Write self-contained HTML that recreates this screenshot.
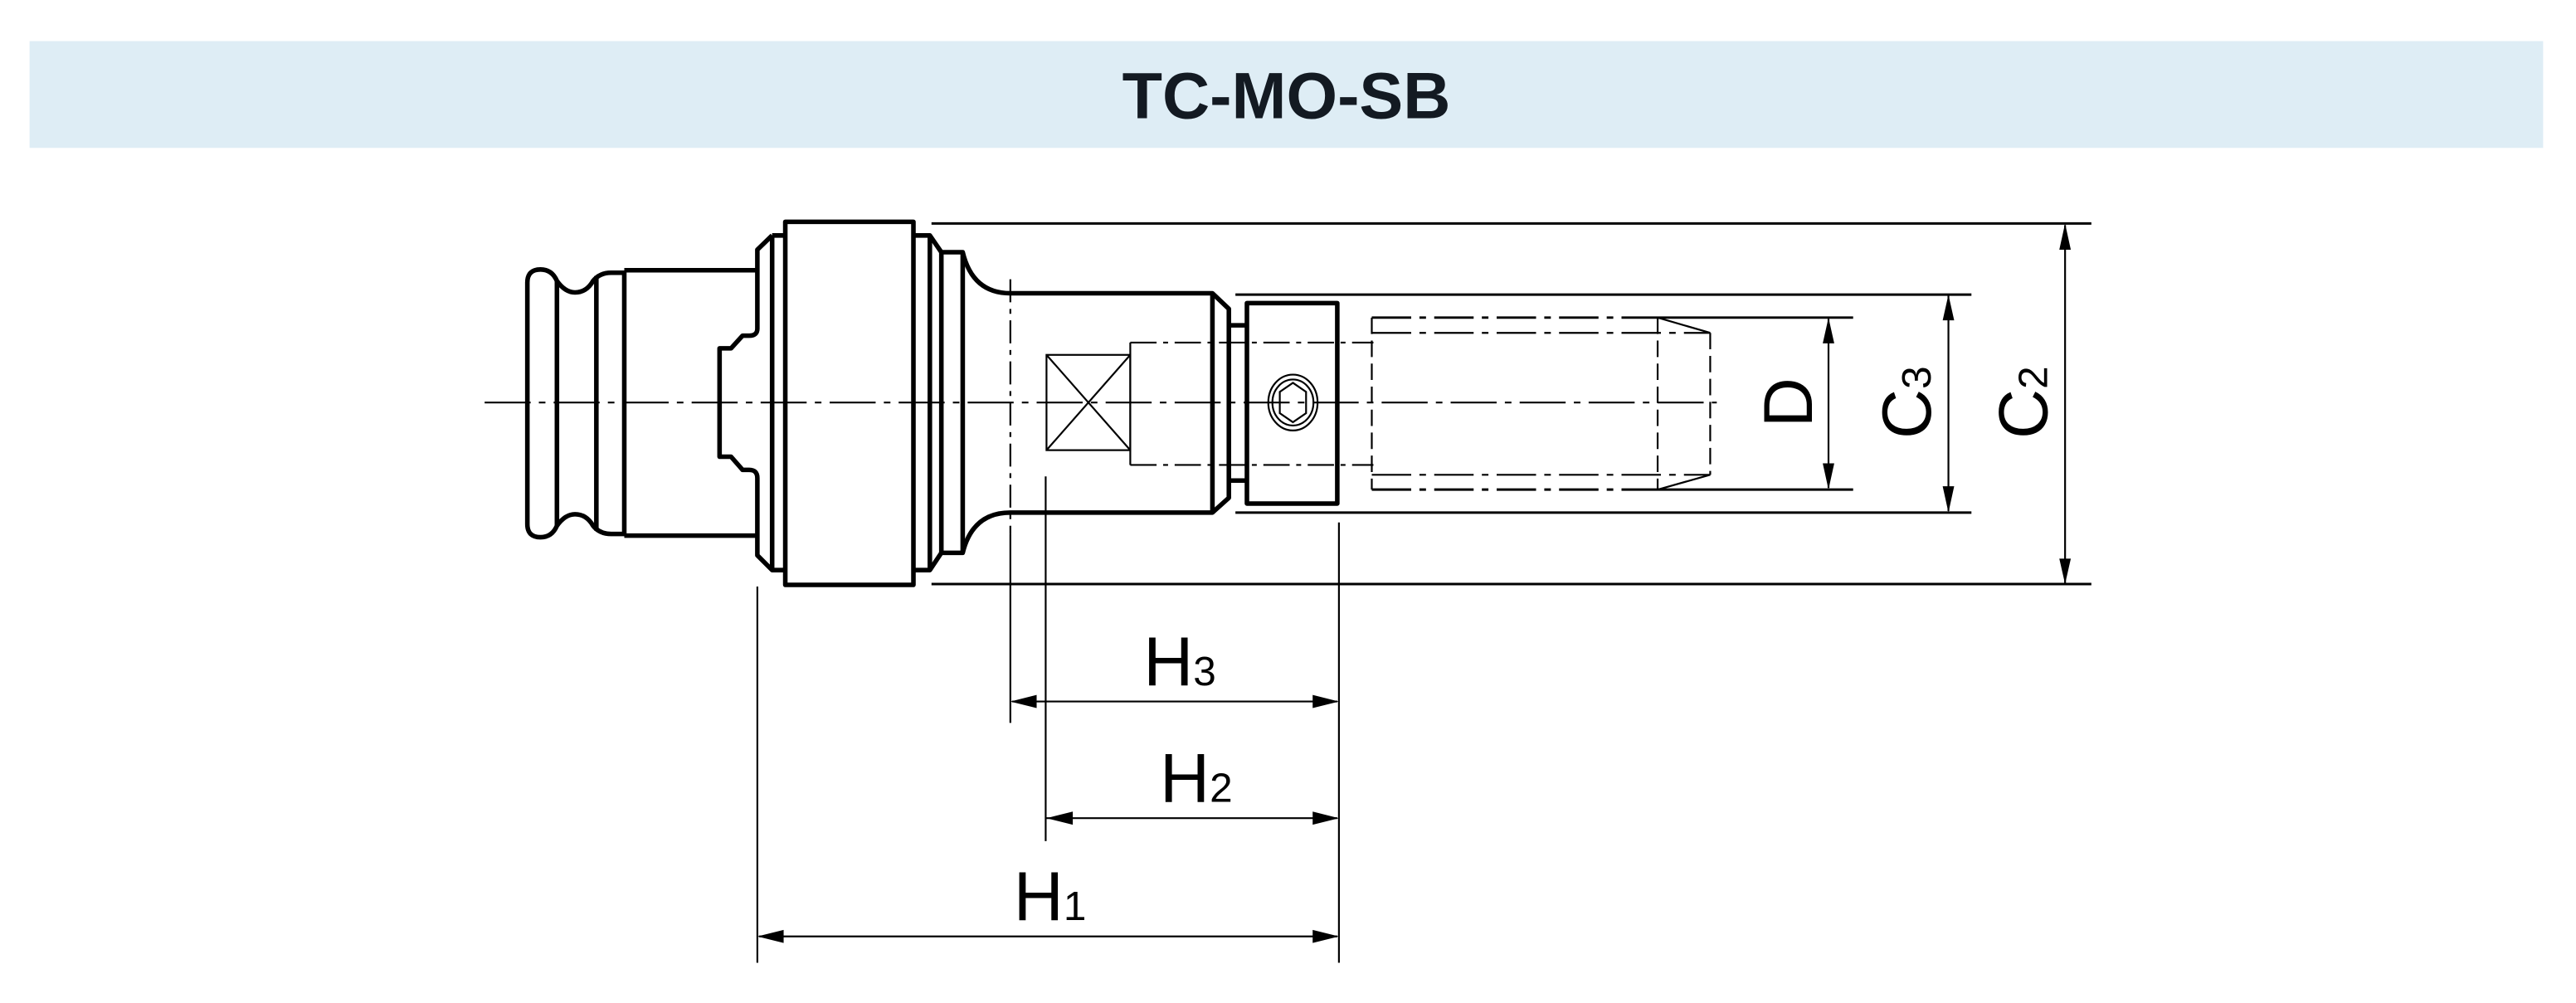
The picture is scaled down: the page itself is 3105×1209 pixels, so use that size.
<!DOCTYPE html>
<html><head><meta charset="utf-8"><style>
html,body{margin:0;padding:0;background:#fff;}
svg{display:block;}
</style></head><body>
<svg width="3105" height="1209" viewBox="0 0 1568 610.5" xmlns="http://www.w3.org/2000/svg" font-family="Liberation Sans, sans-serif">
<rect x="18" y="25" width="1530" height="65" fill="#deedf5"/>
<text x="783" y="72" text-anchor="middle" font-size="40" font-weight="bold" fill="#131a22">TC-MO-SB</text>

<g fill="none" stroke="#000" stroke-width="2.8" stroke-linejoin="round">
<path d="M321,172 Q321,164 329,164 Q336,164 339,171 Q344,178 350,178 Q357,178 361,171 Q365,166 372,166 L380,166 L380,325 L372,325 Q365,325 361,320 Q357,313 350,313 Q344,313 339,320 Q336,327 329,327 Q321,327 321,319 Z"/>
<line x1="339" y1="171" x2="339" y2="320"/>
<line x1="363" y1="168" x2="363" y2="323"/>
<path d="M380,164.5 L461,164.5 M380,326 L461,326"/>
<path d="M470,143.3 L478,143.3 M470,143.3 L461,152 L461,200 Q461,204.3 456,204.3 L452,204.3 L445,212 L438,212 L438,278 L445,278 L452,286 L456,286 Q461,286 461,291 L461,338 L470,347 L478,347"/>
<line x1="470" y1="143.3" x2="470" y2="347"/>
<rect x="478" y="135" width="78" height="221"/>
<path d="M556,143.3 L566,143.3 L573,153.5 L586,153.5 Q592,178.5 615,178.5 L738,178.5 L748,188 L748,303 L738,312 L615,312 Q592,312 586,336.5 L573,336.5 L566,347 L556,347"/>
<line x1="566" y1="143.3" x2="566" y2="347"/>
<line x1="573" y1="153.5" x2="573" y2="336.5"/>
<line x1="586" y1="153.5" x2="586" y2="336.5"/>
<line x1="738" y1="178.5" x2="738" y2="312"/>
<path d="M748,198 L759,198 M748,292.5 L759,292.5"/>
<rect x="759" y="184.5" width="55" height="122"/>
</g>

<g fill="none" stroke="#000" stroke-width="1.1">
<rect x="637" y="216" width="51" height="58"/>
<path d="M637,216 L688,274 M688,216 L637,274"/>
<path d="M688,208.5 L836,208.5 M688,283 L836,283" stroke-dasharray="16,4,3,4"/>
<line x1="688" y1="208.5" x2="688" y2="283"/>
<path d="M835,193.3 L1009,193.3 M835,298 L1009,298" stroke-dasharray="24,5,4,5" stroke-width="1.5"/>
<path d="M835,202.6 L1041,202.6 M835,289 L1041,289" stroke-dasharray="24,5,4,5"/>
<path d="M835,193.3 L835,298" stroke-dasharray="10,4"/>
<path d="M1009,193.3 L1009,298 M1041,202.6 L1041,289" stroke-dasharray="10,4"/>
<path d="M1009,193.3 L1041,202.6 M1009,298 L1041,289"/>
<ellipse cx="787" cy="245" rx="15" ry="17"/>
<ellipse cx="787" cy="245" rx="12.5" ry="14"/>
<polygon points="787,233 795,238.5 795,251.5 787,257 779,251.5 779,238.5"/>
<line x1="295" y1="245" x2="1045" y2="245" stroke-dasharray="28,5,4,5"/>
<path d="M615,170 L615,325" stroke-dasharray="14,4,3,4"/>
<line x1="615" y1="325" x2="615" y2="440"/>
<line x1="636.5" y1="290" x2="636.5" y2="512"/>
<line x1="461" y1="357" x2="461" y2="586"/>
<line x1="815" y1="318" x2="815" y2="586"/>
<g stroke-width="1.5">
<line x1="567" y1="136" x2="1273" y2="136"/>
<line x1="567" y1="355.5" x2="1273" y2="355.5"/>
<line x1="752" y1="179.3" x2="1200" y2="179.3"/>
<line x1="752" y1="312" x2="1200" y2="312"/>
<line x1="1009" y1="193.3" x2="1128" y2="193.3"/>
<line x1="1009" y1="298" x2="1128" y2="298"/>
</g>
<line x1="1113" y1="194" x2="1113" y2="297"/>
<line x1="1186" y1="180" x2="1186" y2="311"/>
<line x1="1257" y1="137" x2="1257" y2="355"/>
<line x1="616" y1="427" x2="814" y2="427"/>
<line x1="637" y1="498" x2="814" y2="498"/>
<line x1="462" y1="570" x2="814" y2="570"/>
</g>
<g fill="#000">
<polygon points="1113,193.3 1109.5,209 1116.5,209"/>
<polygon points="1113,298 1109.5,282 1116.5,282"/>
<polygon points="1186,179.3 1182.5,195 1189.5,195"/>
<polygon points="1186,312 1182.5,296 1189.5,296"/>
<polygon points="1257,136 1253.5,152 1260.5,152"/>
<polygon points="1257,355.5 1253.5,340 1260.5,340"/>
<polygon points="615,427 631,423 631,431"/>
<polygon points="815,427 799,423 799,431"/>
<polygon points="637,498 653,494 653,502"/>
<polygon points="815,498 799,494 799,502"/>
<polygon points="461,570 477,566 477,574"/>
<polygon points="815,570 799,566 799,574"/>
</g>
<g font-size="42" fill="#000">
<text x="696" y="417">H<tspan font-size="25">3</tspan></text>
<text x="706" y="488">H<tspan font-size="25">2</tspan></text>
<text x="617" y="560">H<tspan font-size="25">1</tspan></text>
<text transform="translate(1103,245) rotate(-90)" text-anchor="middle">D</text>
<text transform="translate(1175,245) rotate(-90)" text-anchor="middle">C<tspan font-size="25">3</tspan></text>
<text transform="translate(1246,245) rotate(-90)" text-anchor="middle">C<tspan font-size="25">2</tspan></text>
</g>
</svg>
</body></html>
